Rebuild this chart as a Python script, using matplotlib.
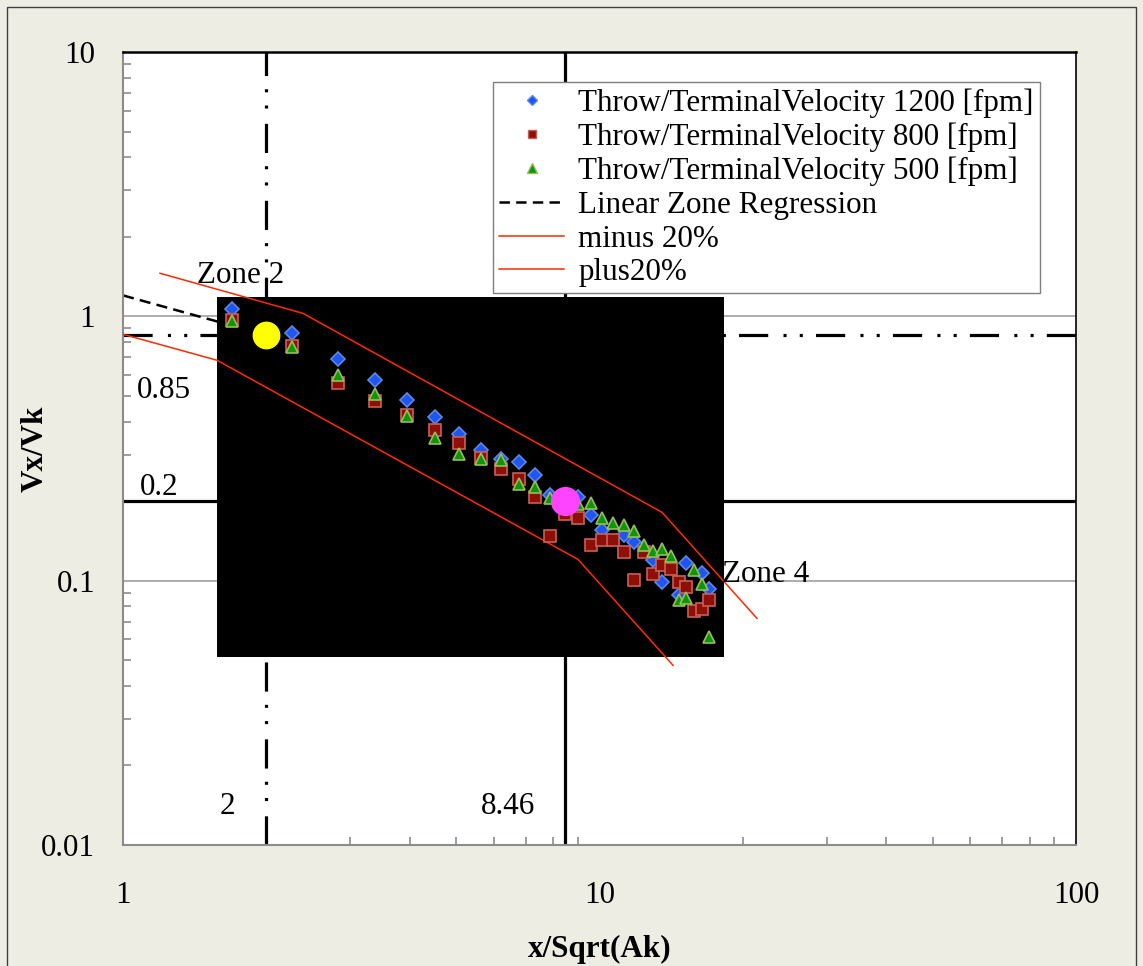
import matplotlib
matplotlib.use('Agg')
import matplotlib.pyplot as plt
from matplotlib.lines import Line2D
from matplotlib.patches import Rectangle
from matplotlib.ticker import FixedLocator, FixedFormatter, NullFormatter

plt.rcParams['font.family'] = ['Liberation Serif', 'DejaVu Serif']
plt.rcParams['lines.scale_dashes'] = False

# Throw / terminal velocity measurements
v1200_x = [1.69, 2.26, 2.82, 3.38, 3.94, 4.52, 5.07, 5.64, 6.20, 6.78, 7.33, 7.86,
           9.03, 9.58, 10.14, 11.27, 11.84, 12.98, 13.55, 14.66, 15.21, 16.39, 16.95]
v1200_y = [1.069, 0.868, 0.688, 0.576, 0.481, 0.416, 0.360, 0.311, 0.289, 0.281, 0.250, 0.210,
           0.207, 0.177, 0.155, 0.149, 0.140, 0.120, 0.0988, 0.0880, 0.1166, 0.1069, 0.0933]

v800_x = [1.69, 2.26, 2.82, 3.38, 3.94, 4.52, 5.07, 5.64, 6.20, 6.78, 7.33, 7.86, 8.47, 9.03,
          9.58, 10.14, 10.69, 11.27, 11.84, 12.39, 12.98, 13.55, 14.13, 14.66, 15.21, 15.79,
          16.39, 16.95]
v800_y = [0.966, 0.772, 0.561, 0.477, 0.422, 0.373, 0.332, 0.292, 0.265, 0.243, 0.208, 0.147,
          0.178, 0.1725, 0.137, 0.143, 0.143, 0.128, 0.1009, 0.128, 0.1056, 0.1143, 0.1104,
          0.0988, 0.0946, 0.0767, 0.0783, 0.0842]

v500_x = [1.69, 2.26, 2.82, 3.38, 3.94, 4.52, 5.07, 5.64, 6.20, 6.78, 7.33, 7.86, 9.03, 9.58,
          10.14, 10.69, 11.27, 11.84, 12.39, 12.98, 13.55, 14.13, 14.66, 15.21, 15.79, 16.39,
          16.95]
v500_y = [0.957, 0.765, 0.598, 0.510, 0.420, 0.346, 0.302, 0.289, 0.285, 0.233, 0.227, 0.205,
          0.1956, 0.1966, 0.1725, 0.1658, 0.1628, 0.1537, 0.136, 0.130, 0.132, 0.124, 0.0842,
          0.0862, 0.1094, 0.0974, 0.0612]

# regression line and +/-20% band
regression_x = [1.0, 8.0]
regression_y = [1.20, 0.425]
plus_x = [1.196, 2.387, 13.53, 21.4]
plus_y = [1.455, 1.026, 0.1813, 0.072]
minus_x = [1.0, 1.575, 9.01, 14.27]
minus_y = [0.855, 0.682, 0.1204, 0.0478]

# zone boundaries
zone_x = [2, 8.46]
zone_y = [0.85, 0.2]

# blacked-out block
block_x = [1.575, 18.25]
block_y = [0.0513, 1.18]

x_ticks = [1, 10, 100]
x_tick_labels = ['1', '10', '100']
y_ticks = [0.01, 0.1, 1, 10]
y_tick_labels = ['0.01', '0.1', '1', '10']

W, H = 1143, 966
fig = plt.figure(figsize=(W / 100, H / 100), dpi=100)
fig.set_facecolor('#EEEDE3')
ax = fig.add_axes([123 / W, 1 - 845 / H, 953 / W, 793 / H])
ax.set_xscale('log')
ax.set_yscale('log')
ax.set_xlim(1, 100)
ax.set_ylim(0.01, 10)

# horizontal gridlines
for g in [0.1, 1]:
    ax.axhline(g, color='#A6A6A6', lw=1.3, zorder=0.5)

# zone boundaries
dashdotdot = (0, (21, 11, 2.2, 9.5, 2.2, 9.5))
ax.axvline(zone_x[0], color='black', lw=2.3, linestyle=dashdotdot, zorder=2)
ax.axhline(zone_y[0], color='black', lw=2.3, linestyle=dashdotdot, zorder=2)
ax.axvline(zone_x[1], color='black', lw=2.3, zorder=2)
ax.axhline(zone_y[1], color='black', lw=2.3, zorder=2)

ax.plot(regression_x, regression_y, color='black', lw=1.8, linestyle=(0, (8, 4.5)), zorder=2)

ax.add_patch(Rectangle((block_x[0], block_y[0]), block_x[1] - block_x[0], block_y[1] - block_y[0],
                       facecolor='black', edgecolor='none', zorder=3))

ax.plot(minus_x, minus_y, color='#FF2A00', lw=1.1, zorder=4)
ax.plot(plus_x, plus_y, color='#FF2A00', lw=1.1, zorder=4)

ax.plot(v1200_x, v1200_y, 'D', ms=7.5, color='#1F55F0', mec='#5C88E6', mew=1.2, zorder=5)
ax.plot(v800_x, v800_y, 's', ms=8, color='#8E0F06', mec='#C8605A', mew=1.2, zorder=5)
ax.plot(v500_x, v500_y, '^', ms=9, color='#0C960C', mec='#9BBB59', mew=1.2, zorder=5)

ax.plot([zone_x[0]], [zone_y[0]], 'o', ms=19, color='#FFFF00', zorder=6)
ax.plot([zone_x[1]], [zone_y[1]], 'o', ms=20, color='#FF44FF', zorder=6)

fs = 22.4
ax.text(1.43, 1.43, 'Zone 2', fontsize=fs, ha='left', va='center', zorder=7)
ax.text(18.06, 0.1056, 'Zone 4', fontsize=fs, ha='left', va='center', zorder=7)
ax.text(1.07, 0.525, '0.85', fontsize=fs, ha='left', va='center', zorder=7)
ax.text(1.085, 0.225, '0.2', fontsize=fs, ha='left', va='center', zorder=7)
ax.text(1.653, 0.0140, '2', fontsize=fs, ha='center', va='center', zorder=7)
ax.text(6.43, 0.0140, '8.46', fontsize=fs, ha='center', va='center', zorder=7)

# axes styling
ax.xaxis.set_major_locator(FixedLocator(x_ticks))
ax.xaxis.set_major_formatter(FixedFormatter(x_tick_labels))
ax.yaxis.set_major_locator(FixedLocator(y_ticks))
ax.yaxis.set_major_formatter(FixedFormatter(y_tick_labels))
ax.xaxis.set_minor_formatter(NullFormatter())
ax.yaxis.set_minor_formatter(NullFormatter())
ax.tick_params(which='both', direction='in', color='#8C8C8C', width=1.2, labelsize=fs,
               top=False, right=False)
ax.tick_params(which='major', length=0)
ax.tick_params(which='minor', length=6)
ax.tick_params(axis='x', which='major', pad=26)
ax.tick_params(axis='y', which='major', pad=20)
for side in ['left', 'bottom']:
    ax.spines[side].set_color('#8C8C8C')
    ax.spines[side].set_linewidth(1.5)
ax.spines['top'].set_color('black')
ax.spines['top'].set_linewidth(1.8)
ax.spines['right'].set_color('black')
ax.spines['right'].set_linewidth(1.2)

ax.set_xlabel('x/Sqrt(Ak)', fontsize=fs, fontweight='bold')
ax.set_ylabel('Vx/Vk', fontsize=fs, fontweight='bold')
ax.xaxis.set_label_coords(0.5, -0.114)
ax.yaxis.set_label_coords(-0.077, 0.5)

handles = [
    Line2D([], [], marker='D', ls='none', ms=5.5, color='#1F55F0', mec='#5C88E6'),
    Line2D([], [], marker='s', ls='none', ms=6, color='#8E0F06', mec='#C8605A'),
    Line2D([], [], marker='^', ls='none', ms=6.5, color='#0C960C', mec='#9BBB59'),
    Line2D([], [], color='black', lw=1.8, linestyle=(0, (7.5, 4.5))),
    Line2D([], [], color='#FF2A00', lw=1.1),
    Line2D([], [], color='#FF2A00', lw=1.1),
]
labels = ['Throw/TerminalVelocity 1200 [fpm]', 'Throw/TerminalVelocity 800 [fpm]',
          'Throw/TerminalVelocity 500 [fpm]', 'Linear Zone Regression', 'minus 20%', 'plus20%']
leg = ax.legend(handles, labels, loc='upper right', bbox_to_anchor=(0.962, 0.962),
                fontsize=fs, frameon=True, fancybox=False, framealpha=1,
                edgecolor='#7F7F7F', labelspacing=0.15, handlelength=2.1,
                handletextpad=0.45, borderpad=0.2, borderaxespad=0)
leg.get_frame().set_linewidth(1.0)
leg.set_zorder(10)

fig.patches.append(Rectangle((7 / W, -0.01), (1136 - 7) / W, 1 - 7 / H + 0.01,
                             transform=fig.transFigure, fill=False,
                             edgecolor='#404040', lw=1.0))

fig.savefig('out.png', dpi=100, facecolor=fig.get_facecolor())
